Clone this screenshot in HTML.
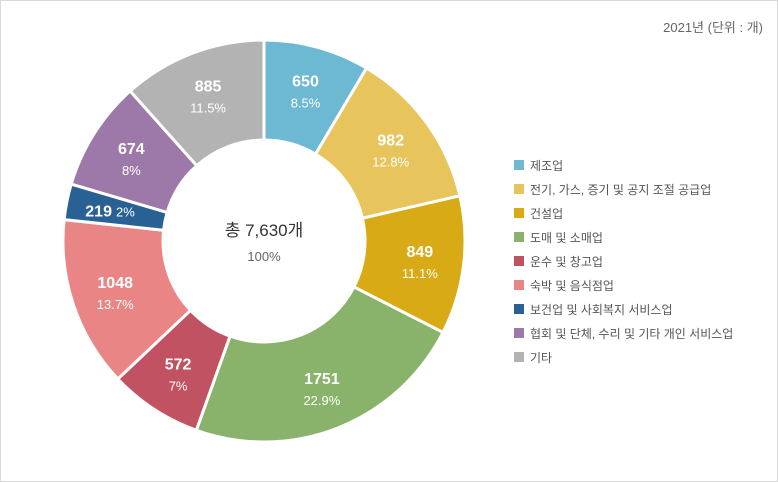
<!DOCTYPE html>
<html><head><meta charset="utf-8">
<style>
html,body{margin:0;padding:0;background:#fff;}
#wrap{position:relative;width:776px;height:480px;border:1px solid #d9d9d9;background:#fff;font-family:"Liberation Sans","Noto Sans CJK KR",sans-serif;}
#unit{position:absolute;right:14px;top:16px;font-size:13px;color:#666;}
#legend{position:absolute;left:513px;top:152px;}
.li{height:24px;display:flex;align-items:center;font-size:12px;color:#555;}
.sw{width:10px;height:10px;margin-right:6px;}
</style></head>
<body>
<div id="wrap">
<div id="unit">2021년 (단위 : 개)</div>
<svg id="chart" width="776" height="480" style="position:absolute;left:0;top:0"></svg>
<div id="legend"></div>
</div>
<script>
const categories=["제조업","전기, 가스, 증기 및 공지 조절 공급업","건설업","도매 및 소매업","운수 및 창고업","숙박 및 음식점업","보건업 및 사회복지 서비스업","협회 및 단체, 수리 및 기타 개인 서비스업","기타"];
const values=[650,982,849,1751,572,1048,219,674,885];
const percents=["8.5%","12.8%","11.1%","22.9%","7%","13.7%","2%","8%","11.5%"];
const colors=["#6db8d3","#e8c45c","#d7aa16","#89b36b","#c05262","#e98585","#2a6195","#9d79a9","#b3b3b3"];
const totalLabel="총 7,630개";
const svg=document.getElementById('chart');
const NS="http://www.w3.org/2000/svg";
const cx=263,cy=240,R=201,r=101,LR=157;
const total=values.reduce((a,b)=>a+b,0);
function pt(rad,a){return [cx+rad*Math.sin(a),cy-rad*Math.cos(a)];}
let acc=0;
values.forEach((v,i)=>{
  const a0=acc/total*2*Math.PI;acc+=v;const a1=acc/total*2*Math.PI;
  const large=(a1-a0)>Math.PI?1:0;
  const p0=pt(R,a0),p1=pt(R,a1),q1=pt(r,a1),q0=pt(r,a0);
  const path=document.createElementNS(NS,'path');
  path.setAttribute('d',`M${p0[0]},${p0[1]}A${R},${R} 0 ${large} 1 ${p1[0]},${p1[1]}L${q1[0]},${q1[1]}A${r},${r} 0 ${large} 0 ${q0[0]},${q0[1]}Z`);
  path.setAttribute('fill',colors[i]);path.setAttribute('stroke','#fff');path.setAttribute('stroke-width','3');
  
  
  svg.appendChild(path);
  const am=(a0+a1)/2;const lp=pt(LR,am);
  const small=v/total<0.04;
  const t1=document.createElementNS(NS,'text');
  t1.setAttribute('text-anchor','middle');t1.setAttribute('fill','#fff');
  t1.setAttribute('font-family','"Liberation Sans",sans-serif');
  if(small){
    t1.setAttribute('x',lp[0]);t1.setAttribute('y',lp[1]+6);
    t1.innerHTML='<tspan font-size="16" font-weight="bold">'+v+'</tspan><tspan font-size="13" dx="4">'+percents[i]+'</tspan>';
  }else{
    t1.setAttribute('x',lp[0]);t1.setAttribute('y',lp[1]-3);
    t1.setAttribute('font-size','16');t1.setAttribute('font-weight','bold');t1.textContent=v;
  }
  
  
  svg.appendChild(t1);
  if(!small){
    const t2=document.createElementNS(NS,'text');
    t2.setAttribute('x',lp[0]);t2.setAttribute('y',lp[1]+18);
    t2.setAttribute('text-anchor','middle');t2.setAttribute('fill','#fff');t2.setAttribute('font-size','13');
    t2.setAttribute('font-family','"Liberation Sans",sans-serif');
    t2.textContent=percents[i];
    
    
    svg.appendChild(t2);
  }
});
const c1=document.createElementNS(NS,'text');
c1.setAttribute('x',cx);c1.setAttribute('y',cy-5);c1.setAttribute('text-anchor','middle');
c1.setAttribute('font-size','17');c1.setAttribute('fill','#333');
c1.setAttribute('font-family','"Liberation Sans","Noto Sans CJK KR",sans-serif');
c1.textContent=totalLabel;


svg.appendChild(c1);
const c2=document.createElementNS(NS,'text');
c2.setAttribute('x',cx);c2.setAttribute('y',cy+20);c2.setAttribute('text-anchor','middle');
c2.setAttribute('font-size','13');c2.setAttribute('fill','#666');
c2.setAttribute('font-family','"Liberation Sans",sans-serif');
c2.textContent='100%';


svg.appendChild(c2);
const lg=document.getElementById('legend');
categories.forEach((c,i)=>{
  const d=document.createElement('div');d.className='li';
  
  
  d.innerHTML='<span class="sw" style="background:'+colors[i]+'"></span><span>'+c+'</span>';
  lg.appendChild(d);
});
</script>
</body></html>
